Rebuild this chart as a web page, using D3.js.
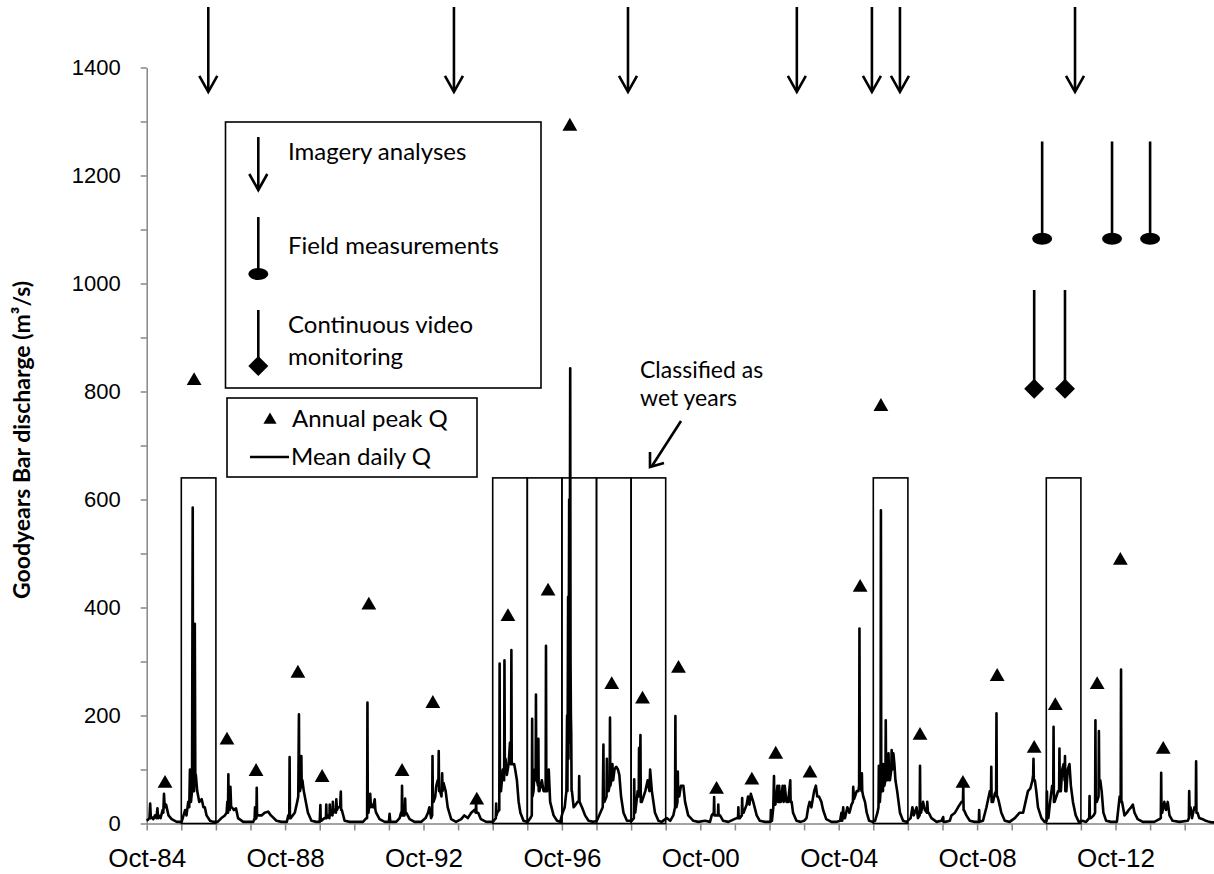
<!DOCTYPE html>
<html>
<head>
<meta charset="utf-8">
<script src="https://cdn.jsdelivr.net/npm/d3@7"></script>
<style>
body { margin: 0; background: #fff; }
svg { display: block; font-family: Lato, "Open Sans", sans-serif; }
.axis text { fill: #000; }
.y-axis text { font-size: 22px; }
.x-axis text { font-size: 26px; }
.axis path, .axis line { stroke: #868686; stroke-width: 1.5; }
.legend-text { font-size: 24px; fill: #000; }
.note-text { font-size: 23px; fill: #000; }
</style>
</head>
<body>
<div id="chart-area"></div>
<script>
// annual peak discharge, one per water year (decimal year of the peak)
const peakYears = [1985.28, 1986.12, 1987.07, 1987.91, 1989.12, 1989.82, 1991.17, 1992.13, 1993.02, 1994.29,
	1995.19, 1996.35, 1996.98, 1998.19, 1999.08, 2000.12, 2001.22, 2002.24, 2002.93, 2003.92,
	2005.37, 2005.97, 2007.10, 2008.34, 2009.33, 2010.40, 2011.01, 2012.22, 2012.89, 2014.13];
const peakQ = [74, 820, 154, 96, 278, 85, 404, 96, 222, 43,
	383, 430, 1291, 257, 230, 287, 63, 80, 128, 93,
	437, 772, 163, 74, 272, 139, 218, 257, 487, 137];

// water years classified as wet
const wetYears = [1986, 1995, 1996, 1997, 1998, 1999, 2006, 2011];
const wetTop = 640;

// survey dates (decimal years)
const imageryDates = [1986.53, 1993.63, 1998.66, 2003.54, 2005.71, 2006.52, 2011.58];
const fieldDates = [2010.63, 2012.65, 2013.75];
const videoDates = [2010.40, 2011.29];

const yTicks = [0, 200, 400, 600, 800, 1000, 1200, 1400];
const xTickLabels = ["Oct-84", "Oct-88", "Oct-92", "Oct-96", "Oct-00", "Oct-04", "Oct-08", "Oct-12"];

const dailyQ = [
	[1984.75,5],[1984.80,8],[1984.83,10],[1984.85,37],[1984.87,10],[1984.89,12],[1984.94,8],[1984.99,15],[1985.03,10],[1985.06,28],[1985.08,10],[1985.10,15],[1985.15,10],[1985.21,25],[1985.23,20],[1985.25,55],[1985.27,30],[1985.31,35],[1985.38,15],[1985.47,8],[1985.62,3],[1985.76,3],
	[1985.86,25],[1985.90,15],[1985.95,40],[1985.98,30],[1986.00,100],[1986.03,40],[1986.06,60],[1986.08,585],[1986.09,100],[1986.12,60],[1986.14,370],[1986.155,80],[1986.17,90],[1986.21,60],[1986.27,40],[1986.34,45],[1986.39,30],[1986.43,30],[1986.48,15],[1986.58,5],[1986.67,3],
	[1986.80,3],[1986.91,10],[1987.01,15],[1987.06,20],[1987.08,40],[1987.10,20],[1987.11,91],[1987.12,30],[1987.13,40],[1987.15,25],[1987.17,68],[1987.19,30],[1987.21,30],[1987.27,25],[1987.33,28],[1987.39,10],[1987.54,3],
	[1987.83,3],[1987.87,10],[1987.88,30],[1987.89,8],[1987.92,10],[1987.93,66],[1987.94,15],[1987.96,15],[1988.07,15],[1988.16,20],[1988.26,22],[1988.34,15],[1988.50,5],[1988.64,3],
	[1988.80,3],[1988.84,15],[1988.87,10],[1988.88,123],[1988.89,10],[1988.91,10],[1989.03,20],[1989.10,40],[1989.13,50],[1989.15,202],[1989.16,60],[1989.18,60],[1989.21,70],[1989.22,125],[1989.23,70],[1989.25,80],[1989.29,60],[1989.35,40],[1989.41,20],[1989.51,5],[1989.65,3],
	[1989.75,3],[1989.77,34],[1989.78,5],[1989.80,5],[1989.89,10],[1989.93,10],[1989.94,35],[1989.95,10],[1989.99,15],[1990.03,10],[1990.04,35],[1990.06,15],[1990.09,20],[1990.12,15],[1990.13,40],[1990.15,20],[1990.18,25],[1990.22,20],[1990.23,45],[1990.25,25],[1990.28,30],[1990.34,30],[1990.36,59],[1990.37,25],[1990.39,25],[1990.47,5],[1990.62,3],
	[1991.00,3],[1991.10,10],[1991.12,10],[1991.13,224],[1991.14,20],[1991.16,20],[1991.21,55],[1991.23,30],[1991.26,35],[1991.30,30],[1991.34,45],[1991.36,25],[1991.38,20],[1991.48,8],[1991.63,3],[1991.75,3],
	[1991.77,18],[1991.79,3],[1991.96,3],[1992.06,10],[1992.10,20],[1992.12,15],[1992.13,70],[1992.14,15],[1992.20,15],[1992.22,46],[1992.23,20],[1992.25,20],[1992.35,8],[1992.49,3],[1992.68,3],
	[1992.81,10],[1992.88,20],[1992.92,30],[1992.97,10],[1993.00,15],[1993.01,125],[1993.02,40],[1993.04,40],[1993.09,50],[1993.12,70],[1993.16,80],[1993.18,70],[1993.19,134],[1993.20,60],[1993.23,60],[1993.27,50],[1993.29,93],[1993.30,60],[1993.33,75],[1993.39,60],[1993.45,30],[1993.55,8],[1993.69,3],
	[1993.84,8],[1993.93,15],[1994.03,10],[1994.13,20],[1994.22,25],[1994.26,20],[1994.27,40],[1994.28,20],[1994.33,20],[1994.41,8],[1994.56,3],[1994.75,3],
	[1994.78,5],[1994.84,10],[1994.85,37],[1994.86,15],[1994.88,20],[1994.94,25],[1994.95,296],[1994.96,60],[1994.99,60],[1995.04,100],[1995.08,80],[1995.09,302],[1995.10,120],[1995.12,120],[1995.16,90],[1995.21,110],[1995.25,150],[1995.28,110],[1995.29,321],[1995.30,110],[1995.33,110],[1995.37,110],[1995.40,100],[1995.45,80],[1995.50,40],[1995.55,20],[1995.64,5],[1995.76,3],
	[1995.84,10],[1995.88,15],[1995.89,194],[1995.90,50],[1995.93,60],[1995.96,100],[1995.99,80],[1996.00,239],[1996.01,80],[1996.03,80],[1996.06,70],[1996.07,157],[1996.08,60],[1996.10,60],[1996.17,80],[1996.22,60],[1996.28,60],[1996.29,329],[1996.30,60],[1996.32,60],[1996.37,100],[1996.41,40],[1996.51,15],[1996.61,5],[1996.70,3],
	[1996.77,20],[1996.83,30],[1996.88,60],[1996.90,200],[1996.91,60],[1996.93,420],[1996.94,120],[1996.96,600],[1996.97,150],[1996.99,843],[1997.00,300],[1997.01,200],[1997.02,167],[1997.03,60],[1997.04,60],[1997.09,30],[1997.15,35],[1997.20,40],[1997.24,40],[1997.25,88],[1997.26,40],[1997.33,30],[1997.42,15],[1997.52,5],[1997.66,3],
	[1997.76,5],[1997.86,20],[1997.93,30],[1997.95,146],[1997.96,40],[1997.98,40],[1998.04,50],[1998.05,120],[1998.06,60],[1998.10,60],[1998.13,70],[1998.14,196],[1998.15,70],[1998.18,80],[1998.21,110],[1998.23,80],[1998.27,100],[1998.32,105],[1998.37,100],[1998.41,90],[1998.46,50],[1998.53,20],[1998.63,5],
	[1998.77,5],[1998.83,10],[1998.84,82],[1998.85,20],[1998.87,20],[1998.94,60],[1998.97,50],[1998.98,140],[1999.00,60],[1999.02,164],[1999.03,40],[1999.06,40],[1999.16,60],[1999.23,80],[1999.28,60],[1999.30,100],[1999.35,60],[1999.44,20],[1999.54,5],[1999.63,3],
	[1999.78,10],[1999.88,5],[1999.97,15],[2000.02,30],[2000.03,199],[2000.04,30],[2000.06,30],[2000.09,40],[2000.10,96],[2000.11,50],[2000.14,50],[2000.19,70],[2000.26,70],[2000.31,40],[2000.40,15],[2000.55,5],[2000.69,3],
	[2000.89,5],[2001.03,3],[2001.08,15],[2001.14,20],[2001.15,49],[2001.16,15],[2001.19,15],[2001.26,15],[2001.27,35],[2001.28,15],[2001.32,15],[2001.41,5],[2001.56,3],
	[2001.80,10],[2001.84,10],[2001.85,30],[2001.86,10],[2001.89,10],[2001.95,15],[2001.96,47],[2001.97,20],[2002.00,20],[2002.09,35],[2002.13,50],[2002.17,35],[2002.21,55],[2002.28,40],[2002.38,15],[2002.47,5],[2002.62,3],
	[2002.78,3],[2002.79,25],[2002.80,5],[2002.82,5],[2002.86,30],[2002.88,88],[2002.89,35],[2002.92,35],[2002.98,70],[2003.00,40],[2003.03,70],[2003.05,40],[2003.08,40],[2003.13,70],[2003.16,40],[2003.19,70],[2003.24,40],[2003.29,40],[2003.35,80],[2003.36,40],[2003.39,40],[2003.43,20],[2003.53,5],[2003.65,3],
	[2003.75,5],[2003.82,10],[2003.87,30],[2003.91,40],[2003.96,30],[2004.04,60],[2004.09,70],[2004.13,50],[2004.18,50],[2004.25,40],[2004.30,25],[2004.39,8],[2004.54,3],[2004.68,3],
	[2004.79,5],[2004.83,20],[2004.85,5],[2004.88,30],[2004.90,10],[2004.93,10],[2005.00,30],[2005.06,20],[2005.12,35],[2005.16,40],[2005.17,68],[2005.19,45],[2005.22,50],[2005.27,60],[2005.32,60],[2005.34,70],[2005.35,361],[2005.36,80],[2005.37,80],[2005.41,60],[2005.42,93],[2005.43,60],[2005.46,50],[2005.51,40],[2005.56,20],[2005.63,5],[2005.73,3],
	[2005.80,5],[2005.87,20],[2005.90,30],[2005.91,107],[2005.92,40],[2005.94,40],[2005.96,60],[2005.97,580],[2005.98,60],[2006.00,60],[2006.03,60],[2006.04,110],[2006.05,70],[2006.07,70],[2006.10,80],[2006.11,191],[2006.12,80],[2006.15,80],[2006.19,130],[2006.21,80],[2006.23,80],[2006.27,100],[2006.28,136],[2006.30,100],[2006.33,130],[2006.36,110],[2006.39,80],[2006.44,60],[2006.52,20],[2006.61,5],[2006.71,3],
	[2006.83,10],[2006.88,30],[2006.92,15],[2007.00,30],[2007.04,10],[2007.09,15],[2007.10,107],[2007.11,20],[2007.13,20],[2007.19,40],[2007.24,25],[2007.30,20],[2007.31,40],[2007.33,20],[2007.35,20],[2007.43,10],[2007.58,3],[2007.72,5],
	[2007.77,12],[2007.78,3],[2007.83,3],[2007.96,5],[2008.01,15],[2008.11,20],[2008.20,30],[2008.30,40],[2008.34,40],[2008.35,71],[2008.36,25],[2008.37,25],[2008.44,15],[2008.54,5],[2008.68,3],
	[2008.80,3],[2008.81,25],[2008.82,3],[2008.92,5],[2009.02,30],[2009.12,60],[2009.15,50],[2009.16,105],[2009.17,40],[2009.21,40],[2009.26,55],[2009.30,60],[2009.31,204],[2009.32,50],[2009.34,50],[2009.38,40],[2009.45,20],[2009.55,5],[2009.69,3],
	[2009.84,10],[2009.98,20],[2010.08,20],[2010.15,40],[2010.22,60],[2010.29,65],[2010.35,80],[2010.37,90],[2010.38,120],[2010.39,80],[2010.42,80],[2010.46,60],[2010.51,30],[2010.61,10],[2010.70,3],
	[2010.76,5],[2010.77,59],[2010.78,10],[2010.81,10],[2010.86,40],[2010.92,70],[2010.95,60],[2010.96,179],[2010.97,40],[2010.99,40],[2011.04,50],[2011.09,60],[2011.12,60],[2011.13,139],[2011.14,60],[2011.17,60],[2011.21,100],[2011.25,110],[2011.28,80],[2011.29,125],[2011.30,60],[2011.33,60],[2011.37,100],[2011.42,110],[2011.46,70],[2011.52,40],[2011.60,15],[2011.69,3],
	[2011.79,5],[2011.90,3],[2011.99,10],[2012.00,51],[2012.01,10],[2012.04,10],[2012.12,15],[2012.16,20],[2012.17,191],[2012.18,40],[2012.21,40],[2012.26,50],[2012.27,171],[2012.28,80],[2012.31,80],[2012.35,60],[2012.40,20],[2012.48,5],[2012.62,3],
	[2012.79,3],[2012.87,50],[2012.90,50],[2012.91,285],[2012.92,40],[2012.94,40],[2013.01,15],[2013.08,20],[2013.13,25],[2013.20,30],[2013.25,35],[2013.30,20],[2013.39,8],[2013.54,3],
	[2013.87,3],[2014.02,8],[2014.06,10],[2014.07,94],[2014.08,20],[2014.10,20],[2014.16,40],[2014.21,25],[2014.26,40],[2014.31,15],[2014.40,5],[2014.60,3],
	[2014.84,5],[2014.87,10],[2014.88,60],[2014.89,30],[2014.92,30],[2014.96,10],[2015.03,30],[2015.07,30],[2015.08,115],[2015.09,20],[2015.12,20],[2015.17,10],[2015.27,8],[2015.36,5],[2015.46,3],[2015.56,2],[2015.62,2]
];

const svg = d3.select("#chart-area").append("svg")
	.attr("width", 1214)
	.attr("height", 874);

const x = d3.scaleLinear()
	.domain([1984.75, 2015.75])
	.range([146.7, 1219.3]);

const y = d3.scaleLinear()
	.domain([0, 1400])
	.range([823.5, 67.5]);

// y axis: labels every 200, minor ticks every 100
svg.append("g")
	.attr("class", "axis y-axis")
	.attr("transform", `translate(${x(1984.75)},0)`)
	.call(d3.axisLeft(y).tickValues(d3.range(0, 1401, 100))
		.tickFormat(d => yTicks.includes(d) ? d : "")
		.tickSize(6).tickSizeOuter(0).tickPadding(20));

// x axis: yearly ticks, labels every four years
const labelYear = s => 1900 + (+s.slice(4) < 50 ? 100 : 0) + +s.slice(4) + 0.75;
svg.append("g")
	.attr("class", "axis x-axis")
	.attr("transform", `translate(0,${y(0)})`)
	.call(d3.axisBottom(x).tickValues(d3.range(1984.75, 2015.5, 1))
		.tickFormat(d => { const l = xTickLabels.find(s => Math.abs(labelYear(s) - d) < 0.01); return l || ""; })
		.tickSize(7).tickSizeOuter(0).tickPadding(18));

// wet year boxes
svg.append("g").selectAll("rect")
	.data(wetYears)
	.enter().append("rect")
	.attr("x", d => x(d - 0.25))
	.attr("y", y(wetTop))
	.attr("width", d => x(d + 0.75) - x(d - 0.25))
	.attr("height", y(0) - y(wetTop))
	.attr("fill", "none")
	.attr("stroke", "#000")
	.attr("stroke-width", 1.6);

// mean daily Q
svg.append("path")
	.datum(dailyQ)
	.attr("fill", "none")
	.attr("stroke", "#000")
	.attr("stroke-width", 2.6)
	.attr("stroke-linejoin", "round")
	.attr("d", d3.line().x(d => x(d[0])).y(d => y(d[1])));

// annual peaks
svg.append("g").selectAll("path")
	.data(peakYears)
	.enter().append("path")
	.attr("transform", (d, i) => `translate(${x(d)},${y(peakQ[i])})`)
	.attr("d", d3.symbol(d3.symbolTriangle, 95))
	.attr("fill", "#000");

function arrowDown(g, cx, top, tip) {
	g.append("line").attr("x1", cx).attr("x2", cx).attr("y1", top).attr("y2", tip - 1)
		.attr("stroke", "#000").attr("stroke-width", 2.6);
	g.append("path").attr("d", `M${cx - 9},${tip - 16}L${cx},${tip}L${cx + 9},${tip - 16}`)
		.attr("fill", "none").attr("stroke", "#000").attr("stroke-width", 2.6);
}
function pin(g, cx, top, end, kind) {
	g.append("line").attr("x1", cx).attr("x2", cx).attr("y1", top).attr("y2", end)
		.attr("stroke", "#000").attr("stroke-width", 2.6);
	if (kind === "ellipse") {
		g.append("ellipse").attr("cx", cx).attr("cy", end).attr("rx", 10).attr("ry", 6).attr("fill", "#000");
	} else {
		g.append("path").attr("d", `M${cx},${end - 10}L${cx + 10},${end}L${cx},${end + 10}L${cx - 10},${end}Z`).attr("fill", "#000");
	}
}

const marks = svg.append("g");
imageryDates.forEach(d => arrowDown(marks, x(d), y(1512), y(1355)));
fieldDates.forEach(d => pin(marks, x(d), y(1263), y(1083), "ellipse"));
videoDates.forEach(d => pin(marks, x(d), y(988), y(805), "diamond"));

// legend: survey types
const leg = svg.append("g");
leg.append("rect").attr("x", 225.5).attr("y", 122).attr("width", 315.5).attr("height", 266)
	.attr("fill", "none").attr("stroke", "#000").attr("stroke-width", 1.6);
arrowDown(leg, 258.3, 137, 190);
pin(leg, 258.3, 217, 274, "ellipse");
pin(leg, 258.3, 310, 366, "diamond");
leg.append("text").attr("class", "legend-text").attr("x", 288).attr("y", 160).text("Imagery analyses");
leg.append("text").attr("class", "legend-text").attr("x", 288).attr("y", 254).text("Field measurements");
leg.append("text").attr("class", "legend-text").attr("x", 288).attr("y", 333).text("Continuous  video");
leg.append("text").attr("class", "legend-text").attr("x", 288).attr("y", 365).text("monitoring");

// legend: series
const leg2 = svg.append("g");
leg2.append("rect").attr("x", 227).attr("y", 398).attr("width", 250).attr("height", 79)
	.attr("fill", "none").attr("stroke", "#000").attr("stroke-width", 1.6);
leg2.append("path").attr("transform", "translate(270,420)")
	.attr("d", d3.symbol(d3.symbolTriangle, 75)).attr("fill", "#000");
leg2.append("text").attr("class", "legend-text").attr("x", 292).attr("y", 427).text("Annual peak Q");
leg2.append("line").attr("x1", 250).attr("x2", 289).attr("y1", 457).attr("y2", 457)
	.attr("stroke", "#000").attr("stroke-width", 2.3);
leg2.append("text").attr("class", "legend-text").attr("x", 291).attr("y", 465).text("Mean daily Q");

// annotation
svg.append("text").attr("class", "note-text").attr("x", 640).attr("y", 378).text("Classified  as");
svg.append("text").attr("class", "note-text").attr("x", 640).attr("y", 406).text("wet years");
svg.append("line").attr("x1", 681).attr("y1", 421).attr("x2", 652).attr("y2", 466)
	.attr("stroke", "#000").attr("stroke-width", 2.6);
svg.append("path").attr("d", "M650,452L650,467L664,463")
	.attr("fill", "none").attr("stroke", "#000").attr("stroke-width", 2.6);

// y axis title
svg.append("text")
	.attr("transform", `translate(30,440) rotate(-90)`)
	.attr("text-anchor", "middle")
	.style("font-size", "23px")
	.style("font-weight", "bold")
	.text("Goodyears Bar discharge (m³/s)");
</script>
</body>
</html>
